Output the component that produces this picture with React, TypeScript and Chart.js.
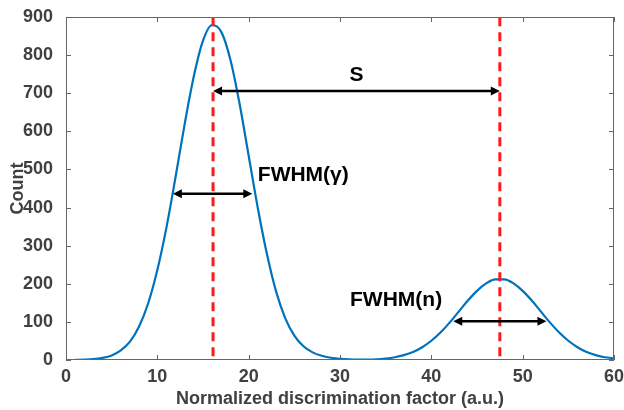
import React, { useEffect, useRef } from "react";
import { Chart, registerables } from "chart.js";

Chart.register(...registerables);

// Curve samples
const xValues = [1,2,3,4,5,6,7,8,9,10,11,12,13,14,15,16,17,18,19,20,21,22,23,24,25,26,27,28,29,30,31,32,33,34,35,36,37,38,39,40,41,42,43,44,45,46,47,48,49,50,51,52,53,54,55,56,57,58,59,60];
const counts = [0.3,0.9,2.2,5.5,12,25,48,88,149,236,348,481,620,745,838,879,861,788,673,536,399,278,180,110,64,36,20,11,6,3,1.5,1,1.2,2,3.9,7.2,12.7,21,33.5,50.5,72,98,127,156,181.5,201,211.6,211.6,201,181.5,156,127,98,72,50.5,33.5,21,12.7,7.2,4.5];

// Peak markers
const peakX = [16.1, 47.5];
const peakLineY = [10, 900];

// Arrows: [x1, x2, y]
const arrowS = [16.1, 47.5, 706];
const arrowGamma = [11.7, 20.4, 436];
const arrowN = [42.4, 52.6, 102];

// Labels: [text, x, y]
const labelTexts = ["S", "FWHM(γ)", "FWHM(n)"];
const labelX = [31.8, 21.0, 31.1];
const labelY = [748, 486, 157];

const xTicks = [0, 10, 20, 30, 40, 50, 60];
const yTicks = [0, 100, 200, 300, 400, 500, 600, 700, 800, 900];

const FONT = 'Arial, "Liberation Sans", sans-serif';
const AXIS_COLOR = "#666666";
const TICK_COLOR = "#404040";

export default function App() {
  const ref = useRef<HTMLCanvasElement | null>(null);

  useEffect(() => {
    document.body.style.margin = "0";
    const canvas = ref.current!;
    const drawArrow = (ctx: CanvasRenderingContext2D, xa: number, xb: number, y: number) => {
      const head = 9;
      const hw = 4.5;
      ctx.save();
      ctx.strokeStyle = "#000";
      ctx.fillStyle = "#000";
      ctx.lineWidth = 2.5;
      ctx.beginPath();
      ctx.moveTo(xa + head - 1, y);
      ctx.lineTo(xb - head + 1, y);
      ctx.stroke();
      ctx.beginPath();
      ctx.moveTo(xa, y);
      ctx.lineTo(xa + head, y - hw);
      ctx.lineTo(xa + head, y + hw);
      ctx.closePath();
      ctx.fill();
      ctx.beginPath();
      ctx.moveTo(xb, y);
      ctx.lineTo(xb - head, y - hw);
      ctx.lineTo(xb - head, y + hw);
      ctx.closePath();
      ctx.fill();
      ctx.restore();
    };

    const framePlugin = {
      id: "frame",
      afterDraw(chart: any) {
        const { ctx, chartArea: a, scales } = chart;
        const xs = scales.x;
        const ys = scales.y;
        ctx.save();
        ctx.strokeStyle = AXIS_COLOR;
        ctx.lineWidth = 1;
        ctx.strokeRect(a.left + 0.5, a.top + 0.5, a.right - a.left - 1, a.bottom - a.top - 1);
        const tl = 5;
        ctx.beginPath();
        for (const v of xTicks) {
          const px = Math.round(xs.getPixelForValue(v)) + 0.5;
          ctx.moveTo(px, a.bottom);
          ctx.lineTo(px, a.bottom - tl);
          ctx.moveTo(px, a.top);
          ctx.lineTo(px, a.top + tl);
        }
        for (const v of yTicks) {
          const py = Math.round(ys.getPixelForValue(v)) + 0.5;
          ctx.moveTo(a.left, py);
          ctx.lineTo(a.left + tl, py);
          ctx.moveTo(a.right, py);
          ctx.lineTo(a.right - tl, py);
        }
        ctx.stroke();
        ctx.restore();

        drawArrow(ctx, xs.getPixelForValue(arrowS[0]), xs.getPixelForValue(arrowS[1]), ys.getPixelForValue(arrowS[2]));
        drawArrow(ctx, xs.getPixelForValue(arrowGamma[0]), xs.getPixelForValue(arrowGamma[1]), ys.getPixelForValue(arrowGamma[2]));
        drawArrow(ctx, xs.getPixelForValue(arrowN[0]), xs.getPixelForValue(arrowN[1]), ys.getPixelForValue(arrowN[2]));

        ctx.save();
        ctx.fillStyle = "#000";
        ctx.font = `bold 21px ${FONT}`;
        ctx.textBaseline = "middle";
        labelTexts.forEach((t, i) => {
          ctx.textAlign = i === 0 ? "center" : "left";
          ctx.fillText(t, xs.getPixelForValue(labelX[i]), ys.getPixelForValue(labelY[i]));
        });
        ctx.restore();
      },
    };

    const chart = new Chart(canvas, {
      type: "line",
      data: {
        datasets: [
          {
            data: peakLineY.map((y) => ({ x: peakX[0], y })),
            borderColor: "#FF1A1A",
            borderWidth: 3,
            borderDash: [9, 6],
            pointRadius: 0,
            order: 0,
          },
          {
            data: peakLineY.map((y) => ({ x: peakX[1], y })),
            borderColor: "#FF1A1A",
            borderWidth: 3,
            borderDash: [9, 6],
            pointRadius: 0,
            order: 0,
          },
          {
            data: xValues.map((x, i) => ({ x, y: counts[i] })),
            borderColor: "#0072BD",
            borderWidth: 2.2,
            pointRadius: 0,
            cubicInterpolationMode: "monotone",
            order: 1,
          },
        ],
      },
      options: {
        responsive: false,
        animation: false,
        layout: { padding: { top: 17, right: 10, left: 0, bottom: 0 } },
        plugins: { legend: { display: false }, tooltip: { enabled: false } },
        scales: {
          x: {
            type: "linear",
            min: 0,
            max: 60,
            afterBuildTicks: (s: any) => {
              s.ticks = xTicks.map((v) => ({ value: v }));
            },
            afterFit: (s: any) => {
              s.height = 50;
            },
            grid: { display: false },
            border: { display: false },
            ticks: {
              color: TICK_COLOR,
              font: { family: FONT, size: 18, weight: "bold" },
              padding: -2,
              maxRotation: 0,
            },
            title: {
              display: true,
              text: "Normalized discrimination factor (a.u.)",
              color: TICK_COLOR,
              font: { family: FONT, size: 18, weight: "bold" },
              padding: { top: 0, bottom: 0 },
            },
          },
          y: {
            type: "linear",
            min: 0,
            max: 900,
            afterBuildTicks: (s: any) => {
              s.ticks = yTicks.map((v) => ({ value: v }));
            },
            afterFit: (s: any) => {
              s.width = 66;
            },
            grid: { display: false },
            border: { display: false },
            ticks: {
              color: TICK_COLOR,
              font: { family: FONT, size: 18, weight: "bold" },
              padding: 5,
            },
            title: {
              display: true,
              text: "Count",
              color: TICK_COLOR,
              font: { family: FONT, size: 18, weight: "bold" },
              padding: { top: 7, bottom: 0 },
            },
          },
        },
      },
      plugins: [framePlugin],
    } as any);
    return () => chart.destroy();
  }, []);

  return <canvas ref={ref} width={624} height={410} style={{ display: "block" }} />;
}
